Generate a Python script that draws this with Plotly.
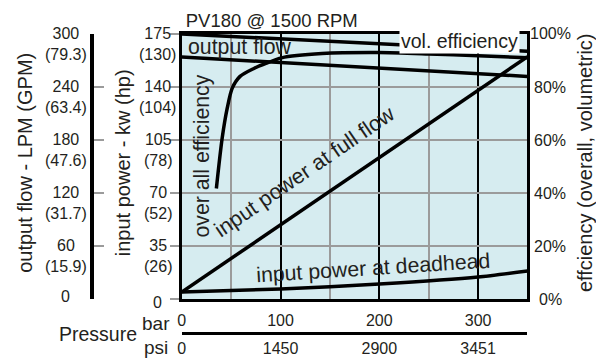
import plotly.graph_objects as go

W, H = 596, 361

# ---------------- data ----------------
bar_ticks = [0, 100, 200, 300]
bar_labels = ["0", "100", "200", "300"]
psi_labels = ["0", "1450", "2900", "3451"]

flow_ticks = [0, 60, 120, 180, 240, 300]
flow_gpm = ["", "(15.9)", "(31.7)", "(47.6)", "(63.4)", "(79.3)"]

power_ticks = [0, 35, 70, 105, 140, 175]
power_hp = ["", "(26)", "(52)", "(78)", "(104)", "(130)"]

eff_ticks = [0, 20, 40, 60, 80, 100]

output_flow_p = [0, 350]
output_flow_lpm = [274, 252]

vol_eff_p = [0, 350]
vol_eff = [100, 93.5]

overall_p = [35, 41, 46, 51, 59, 73, 86, 101, 142, 199, 250, 300, 350]
overall_eff = [41.7, 61, 72, 79.5, 84, 87, 89, 91, 92.6, 93, 92.5, 91.8, 91]

full_p = [0, 350]
full_kw = [4.6, 160]

dead_p = [0, 100, 200, 300, 350]
dead_kw = [4.6, 6.6, 9.9, 14.5, 18.5]

# ---------------- style ----------------
FONT = "Liberation Sans, Arial, Helvetica, sans-serif"
TXT = "#231f20"
BG = "#d6ecf0"
GRID = "#9b9b9b"
LW = 3.5

X0, X1, YT, YB = 179, 527, 34, 299
def px_x(p):
    return p / W
def px_y(p):
    return (H - p) / H

fig = go.Figure()
line = dict(color="black", width=LW)
fig.add_trace(go.Scatter(x=output_flow_p, y=output_flow_lpm, mode="lines", line=line, yaxis="y3", hoverinfo="skip"))
fig.add_trace(go.Scatter(x=vol_eff_p, y=vol_eff, mode="lines", line=line, yaxis="y2", hoverinfo="skip"))
fig.add_trace(go.Scatter(x=overall_p, y=overall_eff, mode="lines", line=dict(color="black", width=LW, shape="spline", smoothing=0.8), yaxis="y2", hoverinfo="skip"))
fig.add_trace(go.Scatter(x=full_p, y=full_kw, mode="lines", line=line, yaxis="y", hoverinfo="skip"))
fig.add_trace(go.Scatter(x=dead_p, y=dead_kw, mode="lines", line=dict(color="black", width=LW, shape="spline", smoothing=0.6), yaxis="y", hoverinfo="skip"))
# invisible traces so that the bar / psi scales are drawn
fig.add_trace(go.Scatter(x=bar_ticks, y=[0] * len(bar_ticks), xaxis="x2", yaxis="y", mode="markers",
                         marker=dict(opacity=0), hoverinfo="skip"))
fig.add_trace(go.Scatter(x=bar_ticks, y=[0] * len(bar_ticks), xaxis="x3", yaxis="y", mode="markers",
                         marker=dict(opacity=0), hoverinfo="skip"))

anns = []
for v, g in zip(flow_ticks, flow_gpm):
    anns.append(dict(x=px_x(62), xref="paper", y=v, yref="y3",
                     text=f"{v}<br>{g}" if g else f"{v}", showarrow=False,
                     xanchor="center", yanchor="middle", yshift=-10.4 if g else 3,
                     font=dict(size=16, color=TXT, family=FONT)))
for v, g in zip(power_ticks, power_hp):
    anns.append(dict(x=px_x(155), xref="paper", y=v, yref="y",
                     text=f"{v}<br>{g}" if g else f"{v}", showarrow=False,
                     xanchor="center", yanchor="middle", yshift=-10.4 if g else -3,
                     font=dict(size=16, color=TXT, family=FONT)))
for v in eff_ticks:
    anns.append(dict(x=px_x(550), xref="paper", y=v, yref="y2", text=f"{v}%",
                     showarrow=False, xanchor="center", yanchor="middle",
                     font=dict(size=16, color=TXT, family=FONT)))
for txt, xp in [("output flow - LPM (GPM)", 21), ("input power - kw (hp)", 120),
                ("effciency (overall, volumetric)", 585)]:
    anns.append(dict(x=px_x(xp), xref="paper", y=px_y(163), yref="paper", text=txt,
                     textangle=-90, showarrow=False, xanchor="center", yanchor="middle",
                     font=dict(size=20, color=TXT, family=FONT)))
anns.append(dict(x=px_x(94.5), xref="paper", y=px_y(334), yref="paper", text="Pressure",
                 showarrow=False, xanchor="center", yanchor="middle",
                 font=dict(size=19.5, color=TXT, family=FONT)))
anns.append(dict(x=px_x(153.5), xref="paper", y=px_y(323), yref="paper", text="bar",
                 showarrow=False, xanchor="center", yanchor="middle",
                 font=dict(size=19, color=TXT, family=FONT)))
anns.append(dict(x=px_x(153), xref="paper", y=px_y(347), yref="paper", text="psi",
                 showarrow=False, xanchor="center", yanchor="middle",
                 font=dict(size=19, color=TXT, family=FONT)))
anns.append(dict(x=59, xref="x", y=285, yref="y3", text="output flow", showarrow=False,
                 xanchor="center", yanchor="middle", font=dict(size=21.3, color=TXT, family=FONT)))
anns.append(dict(x=281, xref="x", y=97.4, yref="y2", text="vol. efficiency", showarrow=False,
                 xanchor="center", yanchor="middle", bgcolor="white", borderpad=1,
                 font=dict(size=19.5, color=TXT, family=FONT)))
anns.append(dict(x=21, xref="x", y=94.4, yref="y", text="over all efficiency", showarrow=False,
                 textangle=-90, xanchor="center", yanchor="middle",
                 font=dict(size=21.3, color=TXT, family=FONT)))
anns.append(dict(x=124, xref="x", y=84, yref="y", text="input power at full flow", showarrow=False,
                 textangle=-34.5, xanchor="center", yanchor="middle",
                 font=dict(size=21.5, color=TXT, family=FONT)))
anns.append(dict(x=194, xref="x", y=20.3, yref="y", text="input power at deadhead", showarrow=False,
                 textangle=-3.6, xanchor="center", yanchor="middle",
                 font=dict(size=21.3, color=TXT, family=FONT)))

xdom = [X0 / W, X1 / W]
ydom = [(H - YB) / H, (H - YT) / H]

fig.update_layout(
    width=W, height=H, margin=dict(l=0, r=0, t=0, b=0),
    paper_bgcolor="white", plot_bgcolor=BG, showlegend=False,
    font=dict(family=FONT, color=TXT, size=16),
    title=dict(text="PV180 @ 1500 RPM", x=183 / W, xanchor="left", xref="paper",
               y=px_y(20.5), yanchor="middle", yref="paper",
               font=dict(size=18.5, color=TXT, family=FONT)),
    xaxis=dict(domain=xdom, range=[0, 350], tickvals=bar_ticks, showticklabels=False, ticks="",
               showgrid=True, gridcolor="black", gridwidth=2,
               minor=dict(tickvals=[50, 150, 250], showgrid=True, gridcolor=GRID, gridwidth=2),
               showline=True, mirror=True, linecolor="black", linewidth=3, zeroline=False),
    xaxis2=dict(overlaying="x", anchor="free", position=px_y(333), side="top", range=[0, 350],
                tickvals=bar_ticks, ticktext=bar_labels, ticks="", showgrid=False, zeroline=False,
                showline=True, linecolor="black", linewidth=3, ticklabelstandoff=0,
                tickfont=dict(size=16, color=TXT, family=FONT)),
    xaxis3=dict(overlaying="x", anchor="free", position=px_y(333), side="bottom", range=[0, 350],
                tickvals=bar_ticks, ticktext=psi_labels, ticks="", showgrid=False, zeroline=False,
                showline=False, ticklabelstandoff=4,
                tickfont=dict(size=16, color=TXT, family=FONT)),
    yaxis=dict(domain=ydom, range=[0, 175], tickvals=power_ticks, showticklabels=False,
               ticks="outside", ticklen=9, tickwidth=2, tickcolor=GRID,
               showgrid=True, gridcolor=GRID, gridwidth=2, zeroline=False,
               showline=True, mirror=True, linecolor="black", linewidth=3),
    yaxis2=dict(overlaying="y", side="right", range=[0, 100], showticklabels=False, ticks="",
                showgrid=False, zeroline=False, showline=False),
    yaxis3=dict(overlaying="y", anchor="free", position=89 / W, side="left", range=[0, 300],
                tickvals=flow_ticks, showticklabels=False, ticks="inside", ticklen=10,
                tickwidth=2, tickcolor=GRID, showgrid=False, zeroline=False,
                showline=True, linecolor="black", linewidth=3.5),
    annotations=anns,
)

fig.write_html("out.html", config={"displayModeBar": False},
               post_script="document.body.style.margin='0';")
